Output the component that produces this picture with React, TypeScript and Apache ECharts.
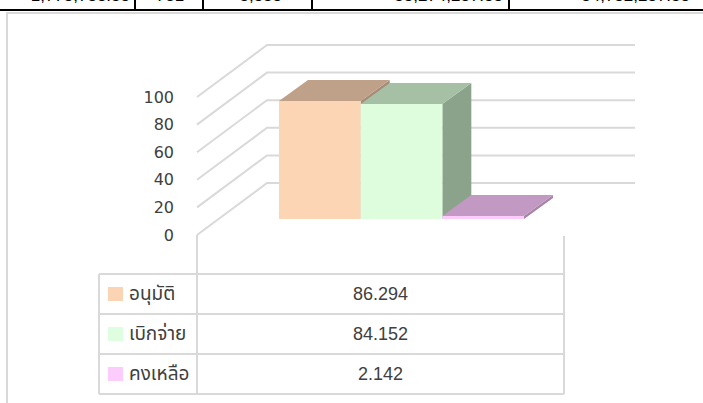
import React, { useEffect, useRef } from "react";
import * as echarts from "echarts";

// ---- data ----
const seriesNames = ["อนุมัติ", "เบิกจ่าย", "คงเหลือ"];
const seriesValues = [86.294, 84.152, 2.142];
const axisTicks = [0, 20, 40, 60, 80, 100];
const headerTexts = ["1,775,755.55", "781", "5,555", "55,274,257.55", "54,752,257.55"];

// ---- styles ----
const frontColors = ["#FCD5B5", "#DDFDDD", "#FDCCFD"];
const topColors = ["#BFA088", "#A5C0A5", "#C299C2"];
const sideColors = ["#A88B75", "#8BA38B", "#A883A8"];
const legendColors = ["#FBD4B4", "#DFFDDF", "#FCCCFC"];
const gridColor = "#D9D9D9";
const textColor = "#404040";
const THAI_FONT = "Tahoma, 'Noto Sans Thai', 'Noto Sans', 'DejaVu Sans', sans-serif";

export default function App() {
  const ref = useRef<HTMLDivElement>(null);

  useEffect(() => {
    if (!ref.current) return;
    const chart = echarts.init(ref.current, undefined, { renderer: "svg", width: 703, height: 403 });

    const BAR_DX = 29, BAR_DY = 21; // bar depth
    const WALL_DX = 70, WALL_DY = 52; // wall depth
    const WALL_W = 368; // back wall width

    const graphics: any[] = [];
    // top strip (cut-off table above)
    graphics.push({ type: "line", shape: { x1: 0, y1: 10, x2: 703, y2: 10 }, style: { stroke: "#000", lineWidth: 2 } });
    [135, 203, 312, 509].forEach((x) =>
      graphics.push({ type: "line", shape: { x1: x, y1: 0, x2: x, y2: 10 }, style: { stroke: "#000", lineWidth: 2 } })
    );
    const headerPos: [number, string][] = [
      [130, "right"], [170, "center"], [282, "right"], [503, "right"], [690, "right"],
    ];
    headerTexts.forEach((t, i) =>
      graphics.push({
        type: "text", x: headerPos[i][0], y: 4,
        style: { text: t, fill: "#000", font: "17px 'Liberation Sans', Arial, sans-serif", align: headerPos[i][1], verticalAlign: "bottom" },
      })
    );
    // chart border
    graphics.push({ type: "polyline", shape: { points: [[7, 403], [7, 13], [703, 13]] }, style: { stroke: gridColor, lineWidth: 2, fill: null } });

    // data table
    const tL = 99, tD = 197, tR = 564, tTop = 274, rowH = 40;
    const tb = { stroke: gridColor, lineWidth: 2 };
    graphics.push({ type: "line", shape: { x1: tD, y1: 235, x2: tD, y2: tTop + rowH * 3 }, style: tb });
    graphics.push({ type: "line", shape: { x1: tR, y1: 236, x2: tR, y2: tTop + rowH * 3 }, style: tb });
    graphics.push({ type: "line", shape: { x1: tL, y1: tTop, x2: tL, y2: tTop + rowH * 3 }, style: tb });
    for (let r = 0; r <= 3; r++) {
      graphics.push({ type: "line", shape: { x1: tL, y1: tTop + r * rowH, x2: tR, y2: tTop + r * rowH }, style: tb });
    }
    seriesNames.forEach((name, i) => {
      const cy = tTop + rowH * i + rowH / 2;
      graphics.push({ type: "rect", shape: { x: 108, y: cy - 7, width: 15, height: 14 }, style: { fill: legendColors[i] } });
      graphics.push({
        type: "text", x: 129, y: cy,
        style: { text: name, fill: textColor, font: `19px ${THAI_FONT}`, align: "left", verticalAlign: "middle" },
      });
      graphics.push({
        type: "text", x: (tD + tR) / 2, y: cy,
        style: { text: String(seriesValues[i]), fill: textColor, font: "18px 'Liberation Sans', Arial, sans-serif", align: "center", verticalAlign: "middle" },
      });
    });

    const option: any = {
      animation: false,
      grid: [
        { left: 279, top: 82.3, width: 245, height: 136.7 },
        { left: 197, top: 97, width: WALL_DX, height: 138 },
      ],
      xAxis: [
        { gridIndex: 0, type: "category", data: seriesNames, show: false },
        { gridIndex: 1, type: "value", min: 0, max: 1, show: false },
      ],
      yAxis: [
        { gridIndex: 0, type: "value", min: 0, max: 100, show: false },
        {
          gridIndex: 1, type: "value", min: 0, max: 100, interval: 20,
          axisLine: { show: false }, axisTick: { show: false }, splitLine: { show: false },
          axisLabel: { color: textColor, fontSize: 16, fontFamily: "'DejaVu Sans', Verdana, sans-serif", margin: 23 },
        },
      ],
      series: [
        {
          type: "custom",
          xAxisIndex: 1, yAxisIndex: 1,
          data: axisTicks.map((v) => [0, v]),
          renderItem: (params: any, api: any) => {
            const p = api.coord([0, api.value(1)]);
            const q = api.coord([1, api.value(1)]);
            return {
              type: "polyline",
              shape: { points: [p, [q[0], q[1] - WALL_DY], [q[0] + WALL_W, q[1] - WALL_DY]] },
              style: { stroke: gridColor, lineWidth: 2, fill: null },
              silent: true,
            };
          },
        },
        {
          type: "custom",
          xAxisIndex: 0, yAxisIndex: 0,
          data: seriesValues.map((v, i) => [i, v]),
          renderItem: (params: any, api: any) => {
            const i = api.value(0);
            const base = api.coord([i, 0]);
            const top = api.coord([i, api.value(1)]);
            const w = api.size([1, 0])[0];
            const l = base[0] - w / 2;
            const r = l + w;
            const t = top[1];
            const b = base[1];
            return {
              type: "group",
              children: [
                {
                  type: "polygon",
                  shape: { points: [[r, t], [r + BAR_DX, t - BAR_DY], [r + BAR_DX, b - BAR_DY], [r, b]] },
                  style: { fill: sideColors[i] },
                },
                {
                  type: "polygon",
                  shape: { points: [[l, t], [r, t], [r + BAR_DX, t - BAR_DY], [l + BAR_DX, t - BAR_DY]] },
                  style: { fill: topColors[i] },
                },
                { type: "rect", shape: { x: l, y: t, width: w, height: b - t }, style: { fill: frontColors[i] } },
              ],
            };
          },
        },
      ],
      graphic: graphics,
    };
    chart.setOption(option);
    return () => chart.dispose();
  }, []);

  return (
    <div
      ref={ref}
      style={{ position: "fixed", left: 0, top: 0, width: 703, height: 403, background: "#fff" }}
    />
  );
}
